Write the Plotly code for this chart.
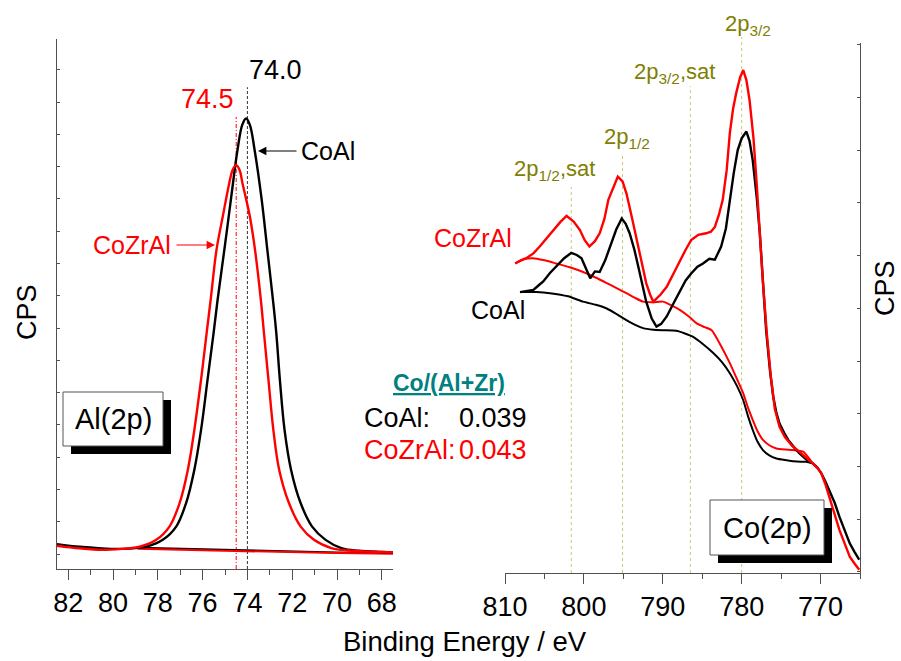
import plotly.graph_objects as go

# ---------------- data ----------------
# Al(2p) region, binding energy (eV) and intensity (arb. CPS units)
al_coal_x = [82.5, 81.5, 80.5, 79.8, 79.12, 78.51, 77.78, 77.18, 76.74, 76.37, 76.07, 75.78, 75.51, 75.33,
             75.03, 74.74, 74.44, 74.23, 74.06, 73.89, 73.68, 73.36, 73.11, 72.86, 72.71, 72.55,
             72.34, 72.05, 71.62, 71.11, 70.51, 69.78, 69.03, 68.0, 67.5]
al_coal_y = [4.7, 4.2, 3.9, 3.8, 3.9, 4.2, 5.5, 8.0, 12.4, 18.7, 26.2, 35.7, 44.5, 50.8,
             60.2, 69.6, 79.1, 83.8, 85.0, 83.8, 79.1, 69.6, 60.2, 50.8, 44.5, 35.7,
             26.2, 18.7, 12.4, 8.0, 5.5, 3.9, 3.45, 3.2, 3.1]
al_cozral_x = [82.5, 81.5, 80.5, 79.6, 78.81, 78.07, 77.48, 77.03, 76.66, 76.37, 76.07, 75.82, 75.64,
               75.38, 75.1, 74.81, 74.66, 74.51, 74.35, 74.22, 73.89, 73.66, 73.4, 73.26, 73.06, 72.84,
               72.58, 72.14, 71.62, 71.03, 70.22, 69.5, 68.0, 67.5]
al_cozral_y = [4.4, 3.9, 3.6, 3.8, 4.2, 5.5, 8.0, 12.4, 18.7, 26.2, 35.7, 44.5, 50.8,
               60.2, 66.5, 72.8, 75.3, 76.2, 75.3, 72.8, 66.5, 60.2, 50.8, 44.5, 35.7, 26.2,
               18.7, 12.4, 8.0, 5.5, 3.9, 3.5, 3.2, 3.1]
al_coal_bg_x = [78.8, 76.0, 74.0, 72.0, 70.0, 67.5]
al_coal_bg_y = [4.0, 3.7, 3.4, 3.2, 3.1, 3.0]
al_cozral_bg_x = [78.9, 76.0, 74.0, 72.0, 70.0, 67.5]
al_cozral_bg_y = [3.8, 3.5, 3.3, 3.1, 3.0, 2.9]
al_peak_pos = {"CoAl": 74.0, "CoZrAl": 74.5}
al_peak_line_top = {"CoAl": 90.9, "CoZrAl": 85.3}

# Co(2p) region
co_coal_x = [808.1, 807.2, 806.4, 805.8, 805.15, 804.3, 803.5, 802.5, 801.6, 800.9, 800.3, 799.7, 799.2,
             798.6, 798.0, 797.3, 796.7, 795.9, 795.2, 794.7, 794.2, 793.6, 793.1, 792.6, 792.1, 791.4,
             790.8, 790.2, 789.5, 788.6, 787.8, 787.1, 786.4, 785.6, 784.9, 784.1, 783.4, 782.6, 782.0,
             781.5, 781.0, 780.5, 780.0, 779.4, 779.0, 778.6, 778.1, 777.7, 777.3, 776.9, 776.4, 776.0,
             775.6, 775.2, 774.6, 774.1, 773.4, 772.7, 771.8, 771.0, 770.4, 769.9, 769.4, 768.9, 768.2,
             767.6, 766.9, 766.3, 765.7, 765.1]
co_coal_y = [53.0, 53.2, 53.4, 54.2, 55.0, 56.6, 57.8, 59.4, 60.4, 60.0, 59.4, 57.5, 55.6,
             56.9, 56.8, 59.0, 61.6, 64.8, 66.9, 65.9, 64.1, 61.0, 57.8, 54.5, 51.2, 48.0,
             46.5, 47.0, 48.4, 51.0, 53.4, 55.2, 56.5, 57.8, 58.4, 59.3, 59.1, 61.6, 65.0,
             70.4, 75.5, 79.8, 82.0, 83.3, 81.5, 77.9, 71.0, 64.1, 55.0, 45.8, 38.0, 33.3,
             30.2, 28.2, 26.4, 25.1, 23.8, 22.6, 21.4, 20.7, 19.9, 18.8, 17.3, 15.7, 13.2,
             10.6, 8.0, 5.6, 4.0, 2.5]
co_cozral_x = [808.7, 808.0, 807.3, 806.4, 805.6, 804.7, 803.9, 803.0, 802.2, 801.3, 800.5, 799.9, 799.3,
               798.6, 798.0, 797.4, 796.9, 796.3, 795.7, 795.1, 794.6, 793.9, 793.3, 792.7, 792.1, 791.6,
               791.2, 790.3, 789.5, 788.6, 787.8, 787.1, 786.4, 785.5, 784.5, 783.9, 783.4, 782.9, 782.4,
               781.9, 781.5, 781.1, 780.7, 780.2, 779.8, 779.4, 779.0, 778.5, 778.1, 777.7, 777.3, 776.8,
               776.3, 775.8, 775.2, 774.5, 773.6, 772.7, 771.8, 771.0, 770.4, 769.9, 769.4, 768.9, 768.2,
               767.6, 766.9, 766.3, 765.7, 765.1]
co_cozral_y = [58.4, 59.0, 59.4, 60.3, 61.6, 63.2, 64.7, 66.2, 67.4, 66.3, 64.7, 62.8, 61.6,
               62.6, 64.1, 66.8, 70.4, 72.8, 74.8, 73.9, 71.6, 67.0, 62.8, 58.6, 54.7, 52.5,
               51.2, 52.5, 54.0, 56.6, 59.1, 61.0, 62.8, 63.8, 64.1, 64.4, 65.3, 67.5, 70.4,
               76.0, 83.0, 87.5, 90.5, 93.5, 94.9, 93.0, 89.2, 82.0, 73.5, 64.0, 54.7, 45.0,
               37.0, 31.0, 27.6, 25.6, 24.0, 22.9, 21.8, 20.7, 19.8, 18.8, 16.8, 14.4, 11.3,
               8.1, 5.4, 3.1, 1.8, 0.6]
co_coal_bg_x = [808.1, 806.0, 804.3, 802.0, 800.1, 798.5, 797.1, 795.8, 794.6, 793.5, 792.5, 791.2, 790.0,
                788.3, 787.2, 786.2, 785.0, 783.6, 782.5, 781.5, 780.6, 779.8, 779.2, 778.6, 778.0, 777.3,
                776.5, 775.6, 774.5, 773.5, 772.5, 771.8, 771.0]
co_coal_bg_y = [53.0, 53.0, 52.8, 52.2, 51.2, 50.6, 49.9, 48.8, 47.7, 46.8, 46.2, 45.9, 45.8,
                45.7, 45.2, 44.6, 43.3, 41.5, 39.8, 37.7, 35.3, 32.6, 29.6, 27.0, 24.8, 23.2,
                22.2, 21.6, 21.3, 21.1, 21.0, 21.0, 20.7]
co_cozral_bg_x = [808.7, 807.6, 806.5, 805.0, 803.5, 801.8, 800.1, 798.6, 797.1, 795.8, 794.6, 793.5, 792.5,
                  791.2, 790.0, 788.9, 787.8, 786.7, 785.7, 784.7, 783.8, 782.6, 781.5, 780.6, 779.8, 779.2,
                  778.6, 778.0, 777.3, 776.5, 775.6, 774.5, 773.5, 772.2, 771.0]
co_cozral_bg_y = [58.4, 59.2, 59.4, 59.0, 58.4, 57.7, 56.8, 55.8, 54.7, 53.7, 52.8, 51.9, 51.2,
                  51.1, 51.2, 50.5, 49.6, 48.4, 47.1, 46.4, 45.8, 42.8, 39.6, 36.6, 33.9, 31.2,
                  28.9, 26.8, 25.1, 24.1, 23.5, 23.3, 23.2, 22.9, 20.7]
co_peak_names = ["2p<sub>1/2</sub>,sat", "2p<sub>1/2</sub>", "2p<sub>3/2</sub>,sat", "2p<sub>3/2</sub>"]
co_peak_pos = [801.6, 795.1, 786.5, 780.0]
co_peak_line_top_px = [187, 153, 86, 37]
co_label_left_px = [515, 605, 635, 726]
co_label_mid_px = [167, 135, 70, 22]

ratio_samples = ["CoAl:", "CoZrAl:"]
ratio_values = ["0.039", "0.043"]

# ---------------- layout helpers ----------------
W, H = 901, 661
def PX(x):
    return x / W
def PY(y):
    return 1 - y / H

FONT = "Arial, Liberation Sans, sans-serif"
BLACK, RED, OLIVE, TEAL = "#000000", "#ff0000", "#808000", "#008080"
AXC = "#505050"

fig = go.Figure()
lw = 2.4
fig.add_trace(go.Scatter(x=al_coal_bg_x, y=al_coal_bg_y, mode="lines", line=dict(color=BLACK, width=2), xaxis="x", yaxis="y"))
fig.add_trace(go.Scatter(x=al_cozral_bg_x, y=al_cozral_bg_y, mode="lines", line=dict(color=RED, width=2), xaxis="x", yaxis="y"))
fig.add_trace(go.Scatter(x=al_coal_x, y=al_coal_y, mode="lines", line=dict(color=BLACK, width=lw, shape="spline", smoothing=1.0), xaxis="x", yaxis="y"))
fig.add_trace(go.Scatter(x=al_cozral_x, y=al_cozral_y, mode="lines", line=dict(color=RED, width=lw, shape="spline", smoothing=1.0), xaxis="x", yaxis="y"))

fig.add_trace(go.Scatter(x=co_coal_bg_x, y=co_coal_bg_y, mode="lines", line=dict(color=BLACK, width=2, shape="spline", smoothing=0.5), xaxis="x2", yaxis="y2"))
fig.add_trace(go.Scatter(x=co_cozral_bg_x, y=co_cozral_bg_y, mode="lines", line=dict(color=RED, width=2, shape="spline", smoothing=0.5), xaxis="x2", yaxis="y2"))
fig.add_trace(go.Scatter(x=co_coal_x, y=co_coal_y, mode="lines", line=dict(color=BLACK, width=lw), xaxis="x2", yaxis="y2"))
fig.add_trace(go.Scatter(x=co_cozral_x, y=co_cozral_y, mode="lines", line=dict(color=RED, width=lw), xaxis="x2", yaxis="y2"))

shapes = []
annotations = []

def note(x, y, text, size, color, xanchor="center", yanchor="middle", **kw):
    d = dict(xref="paper", yref="paper", x=PX(x), y=PY(y), text=text, showarrow=False,
             xanchor=xanchor, yanchor=yanchor, font=dict(size=size, color=color))
    d.update(kw)
    annotations.append(d)

# Al peak marker lines
shapes.append(dict(type="line", xref="x", yref="y", x0=al_peak_pos["CoAl"], x1=al_peak_pos["CoAl"],
                   y0=0, y1=al_peak_line_top["CoAl"], line=dict(color="#333333", width=1, dash="3px,2px"), layer="below"))
shapes.append(dict(type="line", xref="x", yref="y", x0=al_peak_pos["CoZrAl"], x1=al_peak_pos["CoZrAl"],
                   y0=0, y1=al_peak_line_top["CoZrAl"], line=dict(color=RED, width=1, dash="4px,2px,1px,2px"), layer="below"))
annotations.append(dict(xref="x", yref="y", x=al_peak_pos["CoAl"], y=94.2, text="74.0", showarrow=False,
                        xanchor="left", yanchor="middle", font=dict(size=27, color=BLACK)))
annotations.append(dict(xref="x", yref="y", x=al_peak_pos["CoZrAl"], y=88.7, text="74.5", showarrow=False,
                        xanchor="right", yanchor="middle", font=dict(size=27, color=RED)))
# labels + arrows in Al panel
note(328, 151, "CoAl", 25, BLACK)
annotations.append(dict(xref="paper", yref="paper", x=PX(258), y=PY(151), ax=40, ay=0, text="", showarrow=True,
                        arrowhead=2, arrowsize=1.4, arrowwidth=1.2, arrowcolor=BLACK))
note(132, 245, "CoZrAl", 25, RED)
annotations.append(dict(xref="paper", yref="paper", x=PX(215), y=PY(245), ax=-40, ay=0, text="", showarrow=True,
                        arrowhead=2, arrowsize=1.4, arrowwidth=1.2, arrowcolor=RED))

# Co peak lines + labels
for name, pos, top, lx, ly in zip(co_peak_names, co_peak_pos, co_peak_line_top_px, co_label_left_px, co_label_mid_px):
    shapes.append(dict(type="line", xref="x2", yref="paper", x0=pos, x1=pos, y0=PY(573), y1=PY(top),
                       line=dict(color="#c8c878", width=1, dash="dot"), layer="below"))
    note(lx - 3, ly + 3, name, 22, OLIVE, xanchor="left")

note(472.7, 238, "CoZrAl", 25, RED)
note(498, 310, "CoAl", 25, BLACK)

# ratio block
annotations.append(dict(xref="paper", yref="paper", x=PX(449), y=PY(383), text="<b>Co/(Al+Zr)</b>", showarrow=False,
                        xanchor="center", yanchor="middle",
                        font=dict(size=23, color=TEAL, lineposition="under")))
for i, (s, v) in enumerate(zip(ratio_samples, ratio_values)):
    col = BLACK if i == 0 else RED
    yy = 418 + i * 32
    note(362, yy, s, 27, col, xanchor="left")
    note(457, yy, v, 27, col, xanchor="left")

# boxes with shadow
def box(x0, y0, x1, y1, label):
    shapes.append(dict(type="rect", xref="paper", yref="paper", x0=PX(x0 + 8), y0=PY(y1 + 8), x1=PX(x1 + 8), y1=PY(y0 + 8),
                       fillcolor="black", line=dict(width=0)))
    shapes.append(dict(type="rect", xref="paper", yref="paper", x0=PX(x0), y0=PY(y1), x1=PX(x1), y1=PY(y0),
                       fillcolor="white", line=dict(color="#555555", width=1)))
    note((x0 + x1) / 2, (y0 + y1) / 2, label, 29, BLACK)
box(63, 392, 163, 446, "Al(2p)")
box(710, 500, 824, 555, "Co(2p)")

# axis titles
note(465, 641, "Binding Energy / eV", 27.5, BLACK)
note(27, 312, "CPS", 27, BLACK, textangle=-90)
note(885, 288, "CPS", 27, BLACK, textangle=-90)

xcommon = dict(showline=True, linecolor=AXC, linewidth=1, ticks="outside", ticklen=10, tickcolor=AXC,
               showgrid=False, zeroline=False, tickfont=dict(size=27, color=BLACK), mirror=False, automargin=False)
ycommon = dict(showline=True, linecolor=AXC, linewidth=1, ticks="inside", ticklen=3, tickcolor=AXC,
               showgrid=False, zeroline=False, showticklabels=False, automargin=False)

fig.update_layout(
    width=W, height=H, margin=dict(l=0, r=0, t=0, b=0, autoexpand=False),
    paper_bgcolor="white", plot_bgcolor="white", showlegend=False,
    font=dict(family=FONT, color=BLACK),
    xaxis=dict(domain=[PX(57), PX(393)], range=[82.5, 67.5], anchor="y", tick0=68, dtick=2,
               minor=dict(dtick=1, tick0=67, ticks="outside", ticklen=5, tickcolor=AXC), **xcommon),
    yaxis=dict(domain=[PY(569), PY(39)], range=[0, 100], anchor="x", side="left",
               tick0=2.83, dtick=6.09, **ycommon),
    xaxis2=dict(domain=[PX(505), PX(860)], range=[810, 765], anchor="y2", tick0=770, dtick=10,
                minor=dict(dtick=5, tick0=765, ticks="outside", ticklen=5, tickcolor=AXC), **xcommon),
    yaxis2=dict(domain=[PY(573), PY(43)], range=[0, 100], anchor="x2", side="right",
                tick0=0.2, dtick=9.95, **ycommon),
    shapes=shapes, annotations=annotations,
)

fig.write_html("out.html")
